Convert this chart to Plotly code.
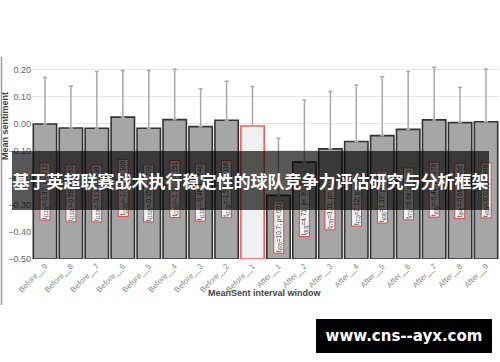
import plotly.graph_objects as go

# ---------------- data ----------------
categories = ["Before__9", "Before__8", "Before__7", "Before__6", "Before__5",
              "Before__4", "Before__3", "Before__2", "Before__1",
              "After__1", "After__2", "After__3", "After__4", "After__5",
              "After__6", "After__7", "After__8", "After__9"]
mean_sentiment = [-0.001, -0.016, -0.017, 0.024, -0.017, 0.015, -0.011, 0.0125, -0.0085,
                  -0.265, -0.142, -0.093, -0.066, -0.044, -0.021, 0.014, 0.004, 0.007]
error_upper = [0.172, 0.155, 0.210, 0.172, 0.213, 0.186, 0.140, 0.1445, 0.1455,
               0.211, 0.229, 0.212, 0.209, 0.217, 0.214, 0.194, 0.130, 0.194]
test_labels = ["t<sub>(132)</sub>=-0.37; p=.712", "t<sub>(132)</sub>=-0.59; p=.555",
               "t<sub>(132)</sub>=-0.13; p=.898", "t<sub>(132)</sub>=-1.61; p=.109",
               "t<sub>(132)</sub>=-0.35; p=.728", "t<sub>(132)</sub>=-1.31; p=.191",
               "t<sub>(132)</sub>=-0.46; p=.646", "t<sub>(132)</sub>=-1.58; p=.116",
               "",
               "t<sub>(93)</sub>=10.7; p<.001", "t<sub>(93)</sub>=4.71; p<.001",
               "t<sub>(79)</sub>=3.11; p=.003", "t<sub>(71)</sub>=2.12; p=.037",
               "t<sub>(69)</sub>=1.37; p=.176", "t<sub>(71)</sub>=0.68; p=.511",
               "t<sub>(66)</sub>=-0.42; p=.678", "t<sub>(64)</sub>=-0.06; p=.952",
               "t<sub>(62)</sub>=-0.01; p=.998"]
reference_window = "Before__1"
y_floor = -0.5
y_ticks = [0.2, 0.1, 0.0, -0.1, -0.2, -0.3, -0.4, -0.5]

title_text = "基于英超联赛战术执行稳定性的球队竞争力评估研究与分析框架"
watermark_text = "www.cns--ayx.com"

# ---------------- layout geometry ----------------
W, H = 500, 362
ML, MR, MT, MB = 32, 1, 56, 103
PW, PH = W - ML - MR, H - MT - MB


def px_x(px):
    return (px - ML) / PW


def px_y(py):
    return (H - MB - py) / PH


fills = ["#f0f0f0" if c == reference_window else "#a6a6a6" for c in categories]
lines = ["#ff5a5a" if c == reference_window else "#333333" for c in categories]

fig = go.Figure()
fig.add_trace(go.Bar(
    x=categories,
    y=[m - y_floor for m in mean_sentiment],
    base=[y_floor] * len(categories),
    marker=dict(color=fills, line=dict(color=lines, width=1.6)),
    error_y=dict(type="data", symmetric=False, array=error_upper,
                 arrayminus=[0] * len(categories),
                 color="#a8a8a8", thickness=1.5, width=2),
    showlegend=False,
    hoverinfo="skip",
))

annotations = []
for c, m, lab in zip(categories, mean_sentiment, test_labels):
    if not lab:
        continue
    annotations.append(dict(
        x=c, y=(m + y_floor) / 2, xref="x", yref="y",
        text=lab, textangle=-90, showarrow=False,
        font=dict(size=6.5, color="#333333", family="Liberation Sans, Arial"),
        bgcolor="#f4f4f4", bordercolor="#e04848", borderwidth=1, borderpad=0.5,
    ))

# axis titles
annotations.append(dict(
    x=px_x(5), y=px_y(126), xref="paper", yref="paper",
    xanchor="center", yanchor="middle",
    text="<b>Mean sentiment</b>", textangle=-90, showarrow=False,
    font=dict(size=9, color="#444444", family="Liberation Sans, Arial"),
))
annotations.append(dict(
    x=px_x(264.5), y=px_y(300), xref="paper", yref="paper",
    text="<b>MeanSent interval window</b>", showarrow=False,
    font=dict(size=9, color="#444444", family="Liberation Sans, Arial"),
))
# banner with title (drawn after labels so it covers them)
annotations.append(dict(
    x=px_x(250.5), y=px_y(180.5), xref="paper", yref="paper",
    xanchor="center", yanchor="middle",
    text="<b>" + title_text + "</b>", showarrow=False,
    width=477, height=59, align="center", valign="middle",
    bgcolor="rgba(0,0,0,0.66)", borderpad=0, borderwidth=0,
    font=dict(size=17, color="#ffffff", family="Noto Sans CJK SC"),
))
# watermark
annotations.append(dict(
    x=px_x(404), y=px_y(336), xref="paper", yref="paper",
    xanchor="center", yanchor="middle",
    text="<b>" + watermark_text + "</b>", showarrow=False,
    width=176, height=34, align="center", valign="middle",
    bgcolor="#000000", borderpad=0, borderwidth=0,
    font=dict(size=15, color="#ffffff", family="DejaVu Sans, Verdana"),
))

shapes = [
    dict(type="line", xref="paper", yref="paper", x0=px_x(1.5), x1=px_x(1.5),
         y0=px_y(57), y1=px_y(305), line=dict(color="#9a9a9a", width=1.5), layer="above"),
]

fig.update_layout(
    width=W, height=H,
    margin=dict(l=ML, r=MR, t=MT, b=MB, pad=0),
    paper_bgcolor="#ffffff", plot_bgcolor="#ffffff",
    bargap=0.1,
    annotations=annotations,
    shapes=shapes,
    xaxis=dict(
        type="category", tickangle=-45, showgrid=False, zeroline=False,
        tickfont=dict(size=8, color="#8a8a8a", family="Liberation Sans, Arial"),
        ticks="", showline=False,
    ),
    yaxis=dict(
        range=[y_floor, 0.25], tickvals=y_ticks, tickformat=".2f",
        showgrid=True, gridcolor="#e6e6e6", gridwidth=1, zeroline=False,
        tickfont=dict(size=9, color="#666666", family="Liberation Sans, Arial"),
        ticks="", showline=False,
    ),
    font=dict(family="Liberation Sans, Arial"),
)

fig.write_html(
    "out.html",
    config={"displayModeBar": False},
    post_script="document.body.style.margin='0';document.body.style.overflow='hidden';",
)
